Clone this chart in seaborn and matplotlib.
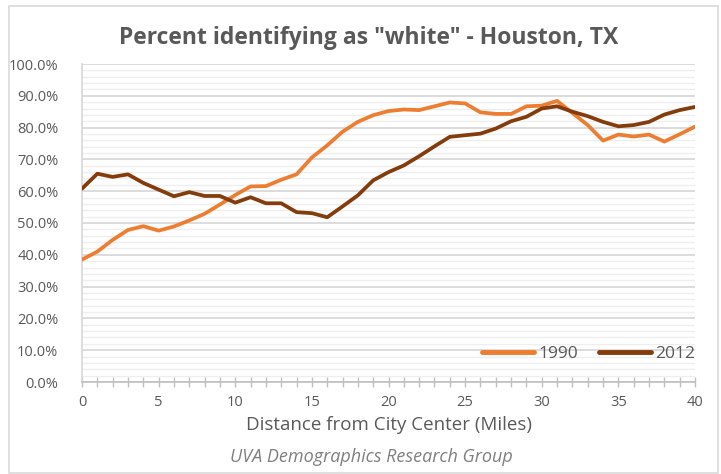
import numpy as np
import pandas as pd
import seaborn as sns
import matplotlib.pyplot as plt
from matplotlib.ticker import MultipleLocator, PercentFormatter
from matplotlib.patches import Rectangle

# === dados ===
miles = list(range(0, 41))
pct_1990 = [38.5, 41.0, 44.7, 47.8, 49.0, 47.6, 48.9, 50.8, 52.9, 55.8,
            58.8, 61.5, 61.6, 63.6, 65.3, 70.6, 74.4, 78.7, 81.8, 83.9,
            85.2, 85.7, 85.5, 86.7, 87.9, 87.6, 84.8, 84.3, 84.3, 86.7,
            86.9, 88.4, 84.6, 80.8, 75.9, 77.8, 77.2, 77.8, 75.6, 77.9,
            80.3]
pct_2012 = [60.8, 65.5, 64.5, 65.3, 62.6, 60.5, 58.4, 59.7, 58.5, 58.5,
            56.4, 58.1, 56.2, 56.2, 53.4, 53.1, 51.8, 55.2, 58.7, 63.4,
            66.0, 68.1, 71.0, 74.1, 77.1, 77.6, 78.1, 79.7, 82.0, 83.4,
            86.0, 86.7, 85.0, 83.6, 81.8, 80.4, 80.8, 81.8, 84.1, 85.5,
            86.5]
years = ["1990", "2012"]
colors = ["#ED7D31", "#843C0C"]

df = pd.DataFrame({
    "miles": miles * 2,
    "pct": pct_1990 + pct_2012,
    "year": [years[0]] * len(miles) + [years[1]] * len(miles),
})

sns.set_theme(style="white")
plt.rcParams["font.family"] = ["Open Sans", "DejaVu Sans"]

fig = plt.figure(figsize=(7.21, 4.74), dpi=100)
ax = fig.add_axes([82 / 721, 1 - 382 / 474, (695 - 82) / 721, (382 - 64) / 474])

# borda externa do gráfico
fig.patches.append(Rectangle((9 / 721, 1 / 474), 709 / 721, 467 / 474,
                             transform=fig.transFigure, fill=False,
                             edgecolor="#d9d9d9", linewidth=1.2))

sns.lineplot(data=df, x="miles", y="pct", hue="year", palette=colors,
             linewidth=2.7, ax=ax, zorder=3)

ax.set_xlim(0, 40)
ax.set_ylim(0, 100)
ax.xaxis.set_major_locator(MultipleLocator(5))
ax.xaxis.set_minor_locator(MultipleLocator(1))
ax.yaxis.set_major_locator(MultipleLocator(10))
ax.yaxis.set_minor_locator(MultipleLocator(2))
ax.yaxis.set_major_formatter(PercentFormatter(decimals=1))

ax.grid(axis="y", which="major", color="#d9d9d9", linewidth=1.3)
ax.grid(axis="y", which="minor", color="#eeeeee", linewidth=1.0)
ax.grid(axis="x", visible=False)
ax.set_axisbelow(True)

for s in ["top", "right"]:
    ax.spines[s].set_visible(False)
ax.spines["left"].set_color("#d9d9d9")
ax.spines["bottom"].set_color("#bfbfbf")
ax.spines["bottom"].set_linewidth(1.2)

ax.tick_params(axis="x", which="both", bottom=True, direction="inout",
               color="#bfbfbf", length=7, width=1.0, labelsize=10.5,
               labelcolor="#595959", pad=6)
ax.tick_params(axis="y", which="both", left=False, labelsize=10.5,
               labelcolor="#595959", pad=11)

ax.set_xlabel("Distance from City Center (Miles)", fontsize=13.5,
              color="#595959", labelpad=4)
ax.set_ylabel("")

fig.text(369 / 721, 1 - 38 / 474, 'Percent identifying as "white" - Houston, TX',
         ha="center", va="center", fontsize=16.5, fontweight="bold", color="#595959")
fig.text(371 / 721, 1 - 457 / 474, "UVA Demographics Research Group",
         ha="center", va="center", fontsize=13, style="italic", color="#7f7f7f")

leg = ax.legend(loc="lower right", bbox_to_anchor=(1.012, 0.04), ncol=2,
                frameon=False, fontsize=12.5, handlelength=3.0,
                handletextpad=0.25, columnspacing=1.2, borderaxespad=0)
for t in leg.get_texts():
    t.set_color("#595959")
for h in leg.get_lines():
    h.set_linewidth(3.5)
    h.set_solid_capstyle("round")

fig.savefig("out.png", dpi=100)
